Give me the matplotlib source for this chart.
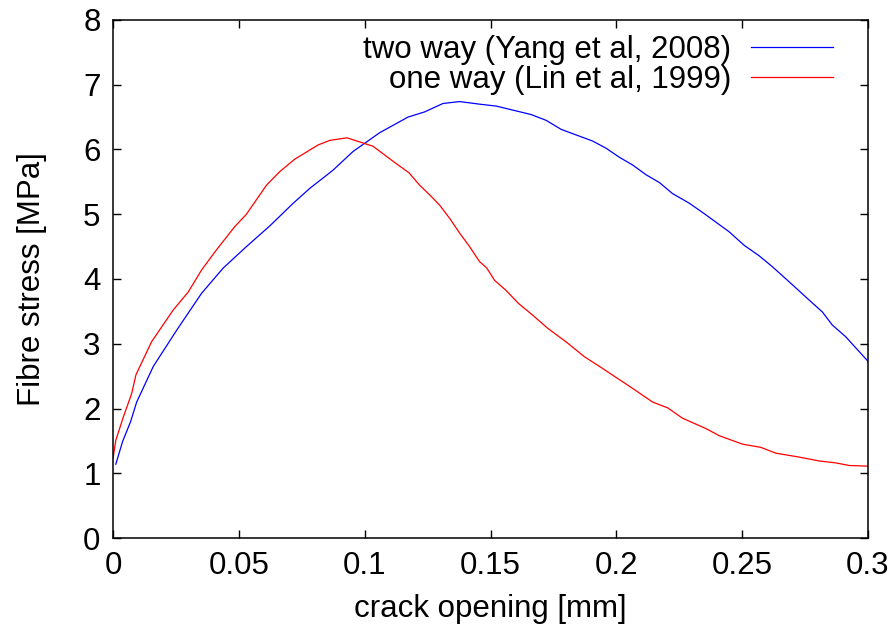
import matplotlib
matplotlib.use('Agg')
import matplotlib.pyplot as plt

# crack opening [mm] vs fibre stress [MPa]
two_way_w = [0.0011, 0.0038, 0.0070, 0.0094, 0.0160, 0.0253, 0.0352, 0.0438, 0.0530,
             0.0623, 0.0716, 0.0782, 0.0874, 0.0954, 0.1060, 0.1172, 0.1238, 0.1311,
             0.1377, 0.1456, 0.1523, 0.1661, 0.1721, 0.1781, 0.1906, 0.1959, 0.2012,
             0.2065, 0.2118, 0.2171, 0.2223, 0.2290, 0.2349, 0.2448, 0.2508, 0.2567,
             0.2620, 0.2700, 0.2759, 0.2819, 0.2858, 0.2911, 0.3000]
two_way_s = [1.14, 1.49, 1.80, 2.10, 2.65, 3.21, 3.78, 4.17, 4.50,
             4.82, 5.17, 5.40, 5.68, 5.97, 6.26, 6.50, 6.58, 6.71,
             6.74, 6.70, 6.67, 6.54, 6.45, 6.31, 6.13, 6.02, 5.88,
             5.76, 5.61, 5.49, 5.32, 5.17, 5.01, 4.73, 4.52, 4.36,
             4.19, 3.91, 3.70, 3.49, 3.29, 3.11, 2.73]

one_way_w = [0.0000, 0.0011, 0.0041, 0.0074, 0.0091, 0.0153, 0.0239, 0.0299, 0.0352,
             0.0411, 0.0484, 0.0530, 0.0610, 0.0663, 0.0722, 0.0815, 0.0861, 0.0930,
             0.1033, 0.1119, 0.1176, 0.1218, 0.1258, 0.1298, 0.1337, 0.1377, 0.1417,
             0.1456, 0.1485, 0.1516, 0.1560, 0.1612, 0.1668, 0.1727, 0.1800, 0.1873,
             0.1933, 0.1999, 0.2065, 0.2144, 0.2204, 0.2263, 0.2356, 0.2409, 0.2501,
             0.2574, 0.2634, 0.2726, 0.2806, 0.2872, 0.2925, 0.3000]
one_way_s = [1.23, 1.51, 1.87, 2.23, 2.52, 3.03, 3.52, 3.80, 4.14,
             4.45, 4.81, 5.00, 5.45, 5.66, 5.85, 6.07, 6.14, 6.18,
             6.05, 5.80, 5.64, 5.45, 5.30, 5.14, 4.94, 4.71, 4.50,
             4.27, 4.17, 3.98, 3.83, 3.62, 3.44, 3.24, 3.03, 2.80,
             2.65, 2.48, 2.31, 2.10, 2.01, 1.85, 1.69, 1.58, 1.45,
             1.40, 1.31, 1.25, 1.19, 1.16, 1.12, 1.11]

plt.rcParams['font.family'] = ['Liberation Sans', 'DejaVu Sans']
plt.rcParams['font.size'] = 22.5

fig = plt.figure(figsize=(8.95, 6.34), dpi=100)
ax = fig.add_axes([0.1263, 0.1514, 0.8435, 0.8171])

ax.plot(two_way_w, two_way_s, color='#0000ff', lw=0.9, label='two way (Yang et al, 2008)')
ax.plot(one_way_w, one_way_s, color='#ff0000', lw=0.9, label='one way (Lin et al, 1999)')

ax.set_xlim(0, 0.3)
ax.set_ylim(0, 8)
ax.set_xticks([0, 0.05, 0.1, 0.15, 0.2, 0.25, 0.3])
ax.set_xticklabels(['0', '0.05', '0.1', '0.15', '0.2', '0.25', '0.3'])
ax.set_yticks(range(0, 9))

ax.tick_params(direction='in', length=6, width=1, top=True, right=True, pad=9)
for s in ax.spines.values():
    s.set_linewidth(1.1)

ax.set_xlabel('crack opening [mm]', labelpad=10)
ax.set_ylabel('Fibre stress [MPa]', labelpad=26)

ax.legend(loc='upper right', frameon=False, markerfirst=False,
          handlelength=2.6, handletextpad=0.65, labelspacing=0.0,
          borderaxespad=0.2, bbox_to_anchor=(0.978, 1.008))

fig.savefig('out.png', dpi=100)
